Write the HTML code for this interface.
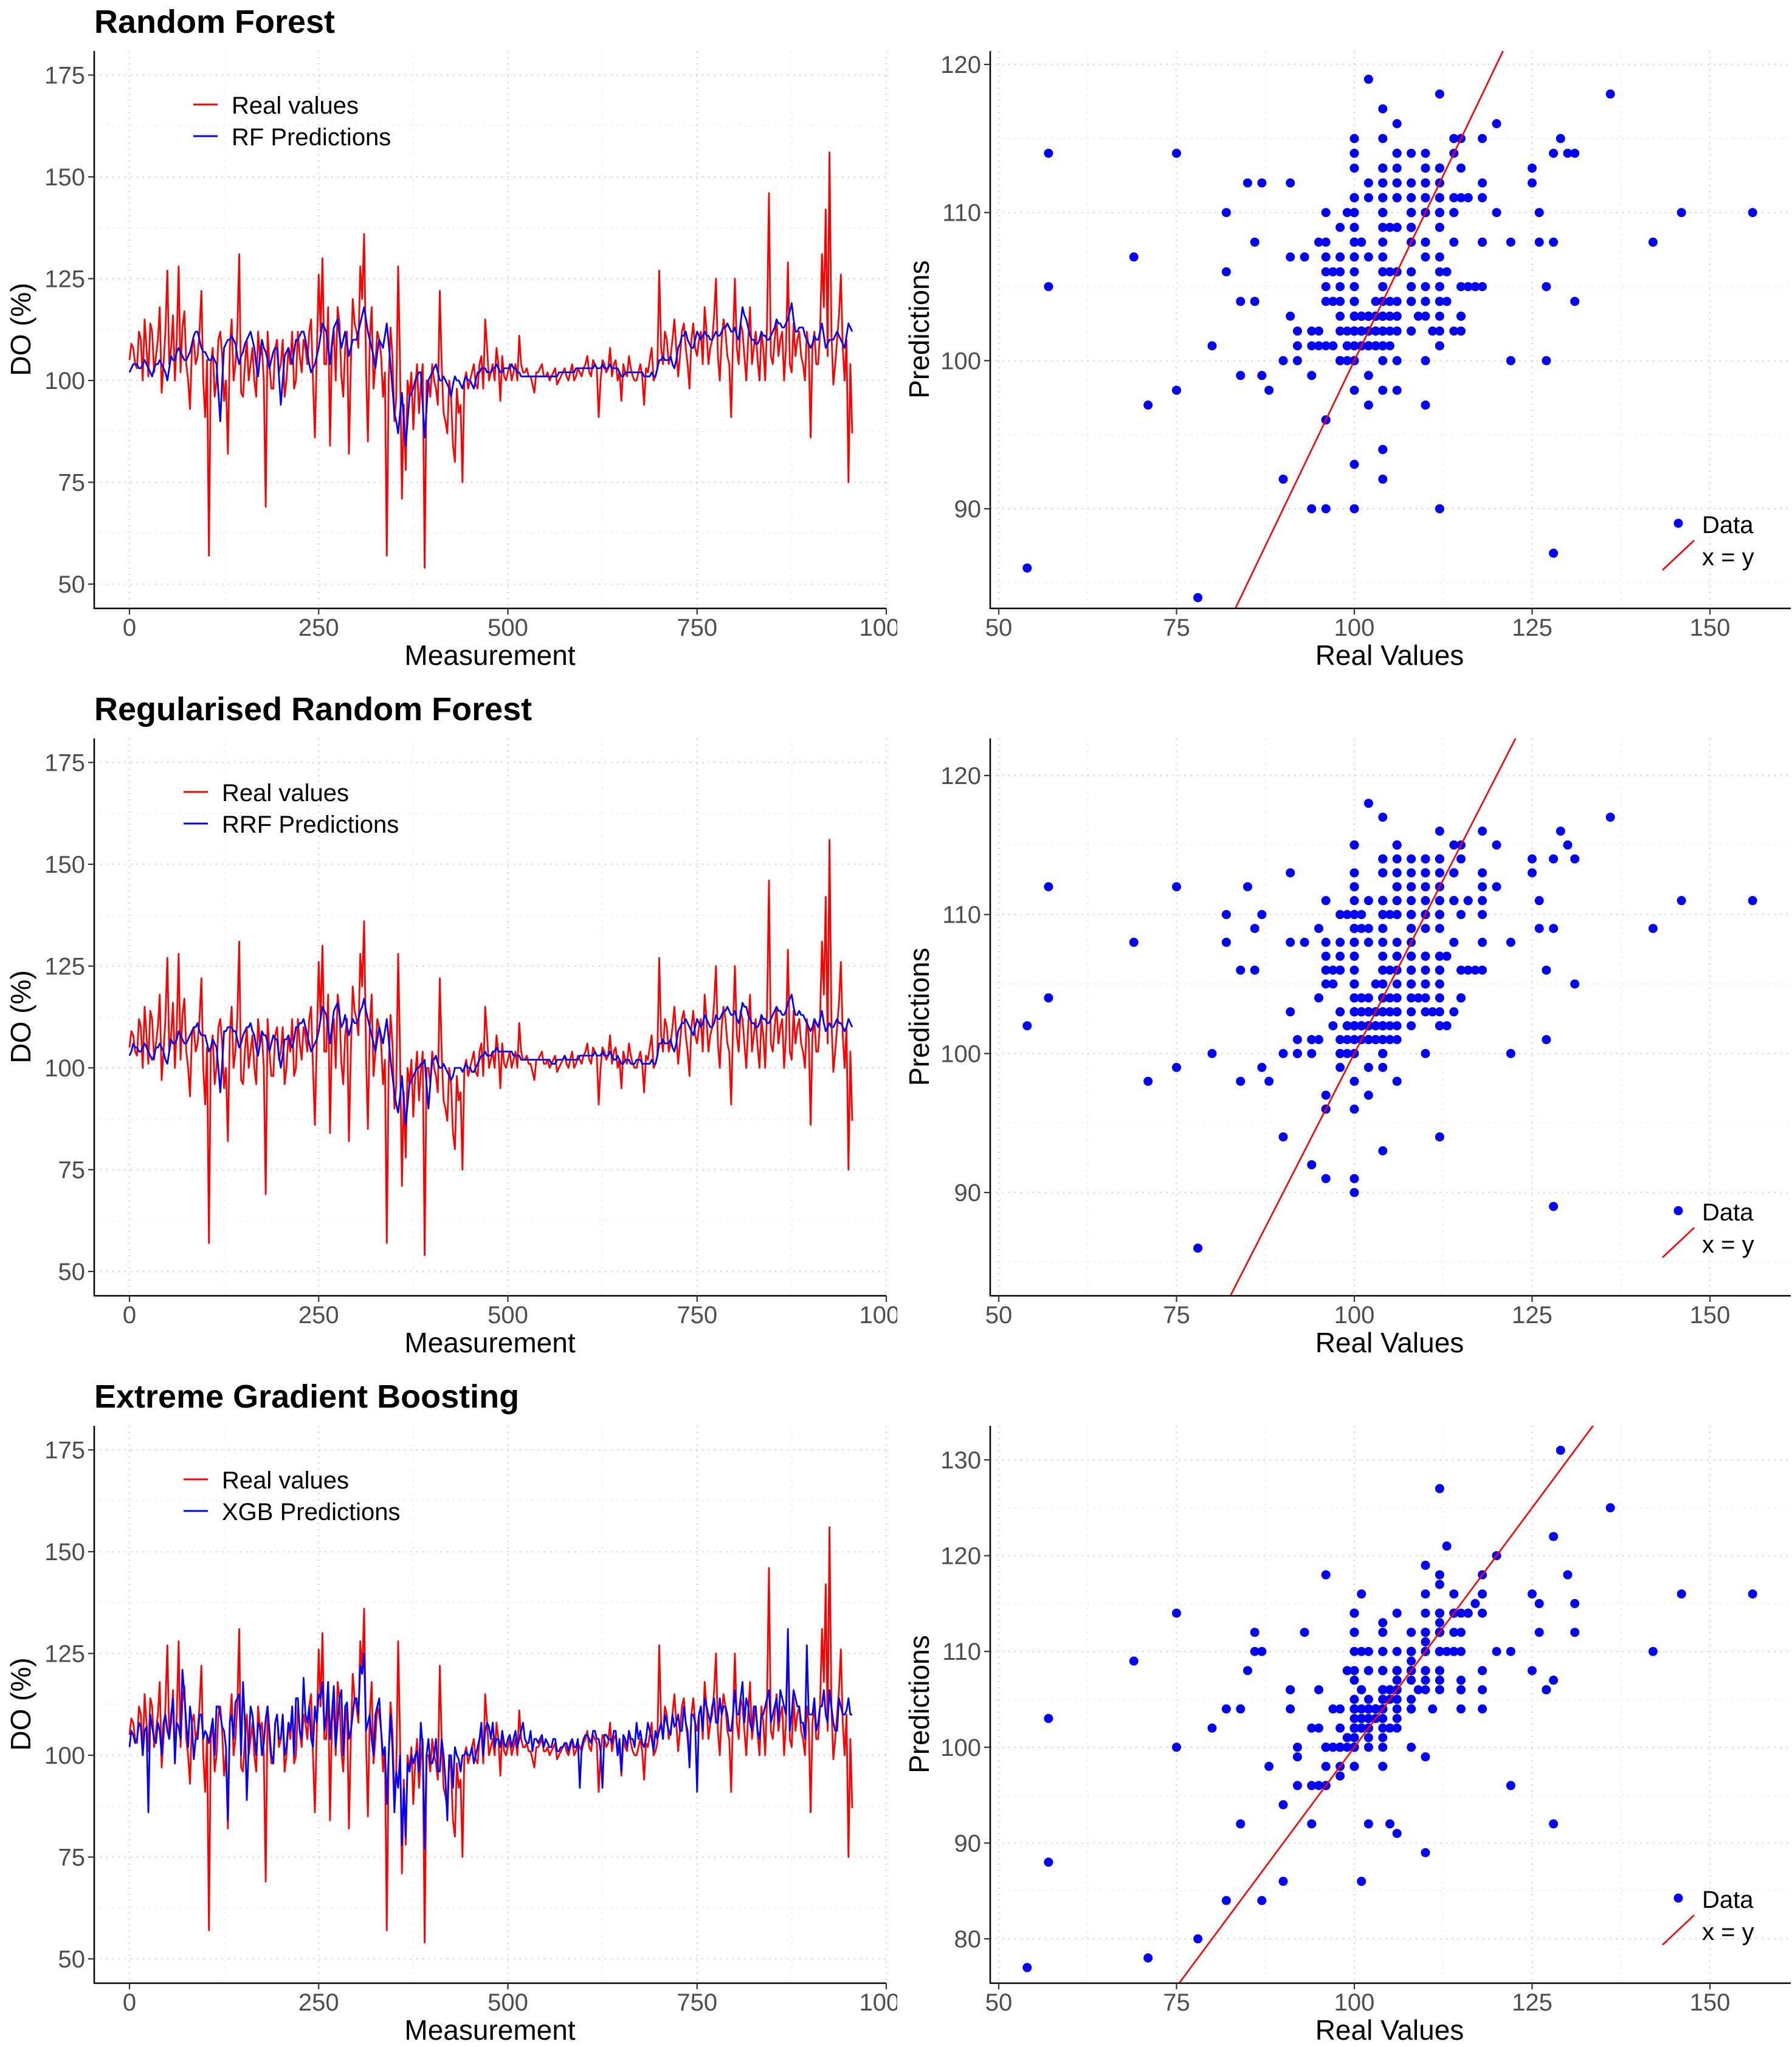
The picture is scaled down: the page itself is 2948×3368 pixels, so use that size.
<!DOCTYPE html>
<html><head><meta charset="utf-8"><style>
html,body{margin:0;padding:0;background:#fff;overflow:hidden;width:2948px;height:3368px;}
svg{display:block;}
text{font-family:"Liberation Sans",sans-serif;}
</style></head><body>
<svg id="fig" xmlns="http://www.w3.org/2000/svg" width="2948" height="3368" viewBox="0 0 2948 3368"></svg>
<script>
// Values at measurements 0,5,10,... and mid-points 2.5,7.5,...
const step = 5;
const realValues = [
105,108,103,110,115,101,112,106,118,104,
127,108,100,128,113,104,93,110,106,122,
91,57,108,100,112,95,82,115,104,131,
96,110,104,100,112,108,69,104,98,110,
104,96,108,112,100,106,110,104,115,86,
126,130,104,84,112,118,101,108,82,120,
112,128,136,85,118,104,110,96,57,113,
90,128,71,78,96,88,104,99,54,100,
104,98,122,92,87,96,80,92,75,102,
100,104,98,106,115,100,104,108,95,101,
102,100,104,111,102,103,101,97,102,104,
101,100,102,99,101,103,100,104,101,102,
103,106,101,104,91,105,102,108,104,100,
95,102,106,101,100,104,94,102,108,101,
127,104,110,106,115,101,112,108,98,114,
106,112,118,104,110,125,100,115,106,91,
125,104,112,100,118,108,105,112,100,146,
104,115,110,100,129,102,106,112,104,112,
86,112,104,131,142,156,99,110,126,100,
75,87];
const realMid = [
109,104,112,100,108,114,102,110,97,112,
104,116,110,102,117,100,108,104,112,100,
105,104,96,110,106,100,108,100,112,97,
104,100,108,96,106,100,112,98,108,102,
110,100,104,98,112,102,108,112,100,106,
112,104,118,108,100,114,96,112,104,114,
108,120,104,110,98,112,106,102,100,106,
96,104,94,100,102,98,92,104,100,96,
100,94,104,90,100,84,98,94,100,98,
102,99,104,98,108,102,100,104,106,100,
104,102,100,104,102,101,99,102,103,101,
102,101,103,100,102,101,102,100,103,101,
104,102,105,103,100,104,103,101,105,102,
104,101,103,100,102,101,103,105,100,103,
108,112,104,110,108,106,114,104,110,108,
110,104,112,108,116,106,110,112,104,110,
108,114,106,110,104,112,100,108,114,106,
110,106,112,108,104,114,110,106,100,108,
108,104,112,118,106,112,104,116,108,110,
104];
const rfPred = [
102,104,104,103,105,103,101,104,105,103,
100,106,105,108,106,105,107,111,112,108,
107,105,106,104,90,108,110,111,109,104,
107,110,112,108,101,110,107,103,107,108,
94,106,108,104,110,111,112,107,102,104,
108,114,112,104,113,115,108,112,106,110,
110,114,118,112,108,103,110,108,114,104,
92,87,97,84,96,98,101,102,86,100,
102,104,100,101,99,96,101,100,98,101,
100,98,102,103,103,102,103,104,102,103,
103,104,103,102,101,101,101,101,101,101,
101,101,101,101,102,102,102,102,103,103,
103,103,103,104,103,104,103,104,103,103,
101,102,102,102,102,102,101,101,102,101,
105,106,105,106,103,108,111,112,109,108,
112,110,112,111,110,112,111,113,114,112,
113,110,118,115,111,110,109,112,111,110,
112,115,114,113,115,119,112,113,113,110,
108,111,110,114,108,110,110,112,110,108,
114,112];
const rfMid = [
103,104,103,104,104,102,103,104,104,102,
103,105,107,107,105,106,109,112,110,107,
106,105,105,97,100,109,110,110,106,106,
109,111,110,104,106,108,105,105,108,101,
100,107,106,107,110,112,110,104,103,106,
111,113,108,109,114,111,110,109,108,110,
112,116,115,110,106,107,109,111,109,98,
90,92,90,90,97,100,102,94,93,101,
103,102,100,100,98,99,100,99,100,100,
99,100,102,103,102,102,103,103,102,103,
103,103,102,101,101,101,101,101,101,101,
101,101,101,102,102,102,102,102,103,103,
103,103,103,103,103,103,103,103,103,102,
101,102,102,102,102,102,101,101,101,103,
105,105,105,104,105,109,111,110,108,110,
111,111,111,110,111,111,112,113,113,112,
111,114,116,113,110,109,110,111,110,111,
113,114,113,114,117,115,112,113,111,109,
109,110,112,111,109,110,111,111,109,111,
113];
const rrfPred = [
103,106,105,104,106,104,102,105,106,104,
101,107,106,109,107,106,108,110,111,108,
108,104,107,105,94,109,110,110,109,105,
108,110,111,108,103,109,108,104,108,107,
100,107,108,105,110,111,112,108,104,106,
109,115,113,106,114,116,110,113,108,112,
111,114,117,112,108,104,110,106,112,102,
94,89,98,86,96,98,100,101,102,90,
102,103,100,101,99,97,100,100,99,101,
100,99,101,103,104,103,104,105,104,104,
104,104,103,103,102,102,102,102,102,102,
102,102,101,102,102,103,102,102,102,103,
103,103,103,104,103,104,103,104,102,103,
101,102,102,101,102,102,101,101,102,101,
106,107,106,107,104,109,111,112,110,108,
112,110,113,111,110,113,112,114,115,113,
114,111,116,115,112,111,110,113,112,111,
113,115,114,113,116,118,113,114,113,111,
109,112,110,114,109,111,110,112,111,109,
112,110];
const rrfMid = [
104,105,104,105,105,103,103,105,105,102,
104,106,107,108,106,107,109,110,109,108,
106,105,106,100,101,109,110,109,107,106,
109,110,109,105,106,108,106,106,107,103,
103,107,106,107,110,111,110,106,105,107,
112,114,110,110,115,113,111,110,110,111,
112,115,114,110,106,107,108,109,107,98,
91,93,92,91,97,99,100,101,96,96,
102,101,100,100,98,98,100,100,100,100,
99,100,102,103,103,103,104,104,104,104,
104,103,103,102,102,102,102,102,102,102,
102,101,101,102,102,102,102,102,102,103,
103,103,103,103,103,103,103,103,102,102,
101,102,101,101,102,101,101,101,101,103,
106,106,106,105,106,110,111,111,109,110,
111,111,112,110,111,112,113,114,114,113,
112,113,115,113,111,110,111,112,111,112,
114,114,113,114,117,115,113,113,112,110,
110,111,112,111,110,110,111,111,110,110,
111];
const xgbPred = [
102,105,104,107,106,86,107,103,106,108,
106,110,98,107,121,108,112,99,104,110,
106,103,109,112,110,106,84,110,113,115,
118,89,112,105,108,100,109,106,98,110,
104,100,108,112,114,106,119,108,104,112,
115,118,110,104,117,108,116,112,104,110,
114,122,125,108,104,110,114,100,88,110,
86,92,78,80,96,98,101,108,77,104,
98,104,96,100,84,100,102,99,100,101,
100,98,102,108,106,107,108,104,102,103,
104,102,106,104,108,103,106,104,103,105,
104,102,104,101,102,103,101,104,102,92,
104,105,103,106,104,92,105,104,106,100,
96,104,106,104,108,106,102,108,104,106,
106,104,108,105,107,110,106,108,97,110,
91,112,114,110,112,108,114,112,110,106,
116,110,118,114,108,112,106,110,112,116,
110,114,116,112,131,110,114,112,108,127,
110,114,108,112,110,116,108,106,112,110,
114,110];
const xgbMid = [
106,103,108,100,107,110,104,108,100,110,
104,114,108,104,115,102,108,104,110,104,
105,106,100,112,107,102,108,104,114,100,
108,102,110,100,107,103,112,100,108,104,
110,102,106,100,114,104,110,112,102,108,
114,106,118,110,102,114,100,113,106,114,
110,120,106,110,100,112,106,102,100,102,
96,100,92,98,100,100,96,102,100,98,
100,96,104,94,100,92,100,96,100,100,
102,100,104,100,108,104,102,104,106,102,
105,104,102,106,104,103,101,104,104,102,
103,102,104,101,102,103,103,102,104,102,
105,104,106,104,101,105,104,103,106,104,
105,102,104,102,104,103,104,106,101,104,
108,110,106,110,108,106,112,106,110,108,
110,106,112,108,114,108,110,112,106,110,
110,114,108,112,106,112,104,110,114,108,
112,108,114,110,106,116,112,108,104,110,
110,106,112,116,108,112,106,114,110,111,
110];
const leftYTicks = [50,75,100,125,150,175];
const leftXTicks = [0,250,500,750,1000];
const rightXTicks = [50,75,100,125,150];
const rightYTicks1 = [90,100,110,120];
const rightYTicks2 = [90,100,110,120];
const rightYTicks3 = [80,90,100,110,120,130];
const titles = ["Random Forest","Regularised Random Forest","Extreme Gradient Boosting"];
const predLabels = ["RF Predictions","RRF Predictions","XGB Predictions"];

function interleave(main, mid){
  const out = [];
  main.forEach((v,i)=>{
    out.push([i*step, v]);
    if (i < mid.length) out.push([i*step + step/2, mid[i]]);
  });
  return out;
}
const realSeries = interleave(realValues, realMid);

const NS = "http://www.w3.org/2000/svg";
const svg = document.getElementById('fig');
function mk(tag, attrs, parent){
  const e = document.createElementNS(NS, tag);
  for (const k in attrs) e.setAttribute(k, attrs[k]);
  (parent||svg).appendChild(e);
  return e;
}
const defs = mk('defs',{});
const rows = [
  {off:0, pred:interleave(rfPred,rfMid), yt:rightYTicks1, yRef:120, yRefPx:106, ppu:24.37, legX:318},
  {off:1131, pred:interleave(rrfPred,rrfMid), yt:rightYTicks2, yRef:120, yRefPx:145, ppu:22.87, legX:302},
  {off:2262, pred:interleave(xgbPred,xgbMid), yt:rightYTicks3, yRef:130, yRefPx:140, ppu:15.76, legX:302}
];
const TOP=84, BOT=1001;
const LX0=155, LX1=1458, RX0=1629, RX1=2946;
const tickCol="#4d4d4d";

rows.forEach((r,ri)=>{
  const o = r.off;
  const g = mk('g',{});
  
  
  // ---------- LEFT time series ----------
  const lx = v => 213 + v*1.245;
  const ly = v => o + 961 - (v-50)*6.70;
  const cp = mk('clipPath',{id:'lc'+ri},defs);
  mk('rect',{x:LX0,y:o+TOP,width:LX1-LX0,height:BOT-TOP},cp);
  const tl = mk('text',{x:155,y:o+54,'font-size':54,'font-weight':'bold',fill:'#000'},g);
  tl.textContent = titles[ri];
  
  
  const lgrid = mk('g',{},g);
  
  
  for (let v=0; v<=1000; v+=125){
    const major = v%250===0;
    mk('line',{x1:lx(v),x2:lx(v),y1:o+TOP,y2:o+BOT,stroke:major?'#d6d6d6':'#e6e6e6','stroke-width':major?2.4:1.6,'stroke-dasharray':'2 8'},lgrid);
  }
  for (let v=50; v<=175; v+=12.5){
    const major = v%25===0;
    mk('line',{x1:LX0,x2:LX1,y1:ly(v),y2:ly(v),stroke:major?'#d6d6d6':'#e6e6e6','stroke-width':major?2.4:1.6,'stroke-dasharray':'2 8'},lgrid);
  }
  const series = [[realSeries,'#ff0000','real-values-line'],[r.pred,'#0000ff','predictions-line']];
  series.forEach(([arr,col,nm])=>{
    const d = arr.map((p,i)=>(i?'L':'M')+lx(p[0]).toFixed(1)+' '+ly(p[1]).toFixed(1)).join(' ');
    const p = mk('path',{d:d,fill:'none',stroke:col,'stroke-width':2.8,'stroke-linejoin':'round','clip-path':'url(#lc'+ri+')'},g);
    
    
  });
  mk('line',{x1:LX0,x2:LX0,y1:o+TOP,y2:o+BOT+1,stroke:'#000','stroke-width':2.5},g);
  mk('line',{x1:LX0,x2:LX1,y1:o+BOT,y2:o+BOT,stroke:'#000','stroke-width':2.5},g);
  leftYTicks.forEach(v=>{
    mk('line',{x1:LX0-10,x2:LX0,y1:ly(v),y2:ly(v),stroke:'#333','stroke-width':2.2},g);
    const t = mk('text',{x:140,y:ly(v)+14,'font-size':40,'text-anchor':'end',fill:tickCol},g);
    t.textContent = v;
    
    
  });
  const lxc = mk('clipPath',{id:'lxc'+ri},defs);
  mk('rect',{x:0,y:o,width:1476,height:1131},lxc);
  leftXTicks.forEach(v=>{
    mk('line',{x1:lx(v),x2:lx(v),y1:o+BOT,y2:o+BOT+10,stroke:'#333','stroke-width':2.2},g);
    const t = mk('text',{x:lx(v),y:o+1046,'font-size':40,'text-anchor':'middle',fill:tickCol,'clip-path':'url(#lxc'+ri+')'},g);
    t.textContent = v;
    
    
  });
  const xt = mk('text',{x:806,y:o+1094,'font-size':46,'text-anchor':'middle',fill:'#000'},g);
  xt.textContent = 'Measurement';
  
  
  const yt = mk('text',{x:0,y:0,'font-size':46,'text-anchor':'middle',fill:'#000',transform:'translate(50,'+(o+542)+') rotate(-90)'},g);
  yt.textContent = 'DO (%)';
  
  
  const lg = mk('g',{},g);
  
  
  mk('line',{x1:r.legX,x2:r.legX+40,y1:o+172,y2:o+172,stroke:'#ff0000','stroke-width':3},lg);
  mk('line',{x1:r.legX,x2:r.legX+40,y1:o+224,y2:o+224,stroke:'#0000ff','stroke-width':3},lg);
  const l1 = mk('text',{x:r.legX+63,y:o+187,'font-size':40,fill:'#000'},lg);
  l1.textContent='Real values';
  
  
  const l2 = mk('text',{x:r.legX+63,y:o+239,'font-size':40,fill:'#000'},lg);
  l2.textContent=predLabels[ri];
  
  

  // ---------- RIGHT scatter ----------
  const sx = v => 1643 + (v-50)*11.70;
  const sy = v => o + r.yRefPx + (r.yRef - v)*r.ppu;
  const xAtPx = px => 50 + (px-1643)/11.70;
  const rc = mk('clipPath',{id:'rc'+ri},defs);
  mk('rect',{x:RX0,y:o+TOP,width:RX1-RX0,height:BOT-TOP},rc);
  const rgrid = mk('g',{},g);
  
  
  for (let v=50; v<=162; v+=12.5){
    const major = v%25===0;
    mk('line',{x1:sx(v),x2:sx(v),y1:o+TOP,y2:o+BOT,stroke:major?'#d6d6d6':'#e6e6e6','stroke-width':major?2.4:1.6,'stroke-dasharray':'2 8'},rgrid);
  }
  const yt0 = r.yt[0], yt1 = r.yt[r.yt.length-1];
  for (let v=yt0-10; v<=yt1+10; v+=5){
    const py = sy(v);
    if (py < o+TOP || py > o+BOT) continue;
    const major = v%10===0;
    mk('line',{x1:RX0,x2:RX1,y1:py,y2:py,stroke:major?'#d6d6d6':'#e6e6e6','stroke-width':major?2.4:1.6,'stroke-dasharray':'2 8'},rgrid);
  }
  const pts = mk('g',{'clip-path':'url(#rc'+ri+')'},g);
  
  
  realSeries.forEach((p,i)=>{
    if (i >= r.pred.length) return;
    const c = mk('circle',{cx:sx(p[1]).toFixed(1),cy:sy(r.pred[i][1]).toFixed(1),r:7.5,fill:'#0000ff'},pts);
    
    
  });
  const xa = xAtPx(RX0), xb = xAtPx(RX1);
  const idl = mk('line',{x1:sx(xa),y1:sy(xa),x2:sx(xb),y2:sy(xb),stroke:'#ff0000','stroke-width':2.6,'clip-path':'url(#rc'+ri+')'},g);
  
  
  mk('line',{x1:RX0,x2:RX0,y1:o+TOP,y2:o+BOT+1,stroke:'#000','stroke-width':2.5},g);
  mk('line',{x1:RX0,x2:RX1,y1:o+BOT,y2:o+BOT,stroke:'#000','stroke-width':2.5},g);
  r.yt.forEach(v=>{
    mk('line',{x1:RX0-10,x2:RX0,y1:sy(v),y2:sy(v),stroke:'#333','stroke-width':2.2},g);
    const t = mk('text',{x:1614,y:sy(v)+14,'font-size':40,'text-anchor':'end',fill:tickCol},g);
    t.textContent = v;
    
    
  });
  rightXTicks.forEach(v=>{
    mk('line',{x1:sx(v),x2:sx(v),y1:o+BOT,y2:o+BOT+10,stroke:'#333','stroke-width':2.2},g);
    const t = mk('text',{x:sx(v),y:o+1046,'font-size':40,'text-anchor':'middle',fill:tickCol},g);
    t.textContent = v;
    
    
  });
  const rxt = mk('text',{x:2286,y:o+1094,'font-size':46,'text-anchor':'middle',fill:'#000'},g);
  rxt.textContent='Real Values';
  
  
  const ryt = mk('text',{x:0,y:0,'font-size':46,'text-anchor':'middle',fill:'#000',transform:'translate(1528,'+(o+542)+') rotate(-90)'},g);
  ryt.textContent='Predictions';
  
  
  const rl = mk('g',{},g);
  
  
  mk('circle',{cx:2761,cy:o+861,r:7.5,fill:'#0000ff'},rl);
  mk('line',{x1:2735,y1:o+938,x2:2787,y2:o+889,stroke:'#ff0000','stroke-width':2.6},rl);
  const d1 = mk('text',{x:2800,y:o+877,'font-size':40,fill:'#000'},rl);
  d1.textContent='Data';
  
  
  const d2 = mk('text',{x:2800,y:o+930,'font-size':40,fill:'#000'},rl);
  d2.textContent='x = y';
  
  
});
</script>
</body></html>
